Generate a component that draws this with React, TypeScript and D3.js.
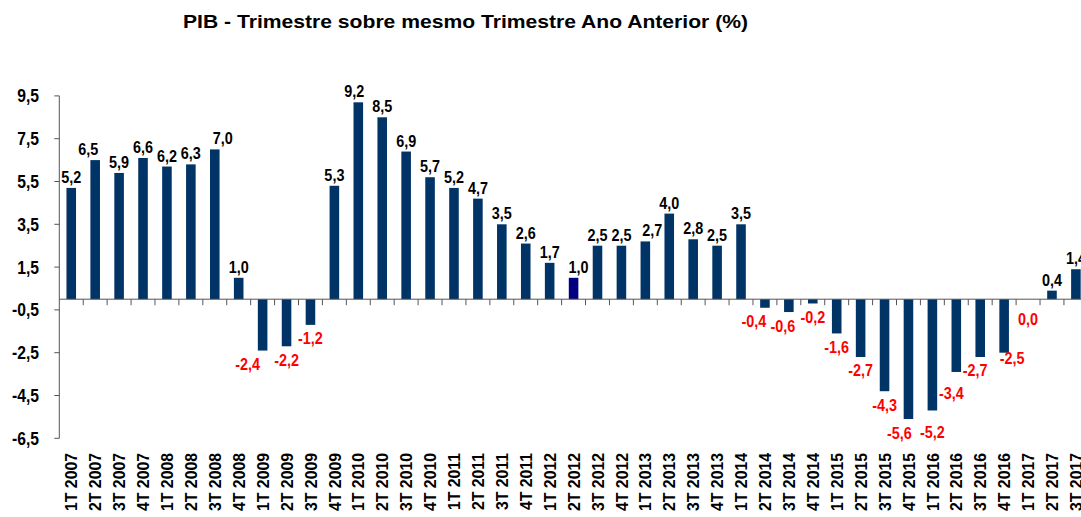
import * as d3 from "d3";

// PIB trimestral vs mesmo trimestre do ano anterior (%)
const QUARTERS = ["1T", "2T", "3T", "4T"];
const YEARS = [2007, 2008, 2009, 2010, 2011, 2012, 2013, 2014, 2015, 2016, 2017];
const CATEGORIES: string[] = YEARS.flatMap((y) => QUARTERS.map((q) => `${q} ${y}`)).slice(0, 43);

const VALUES = [
  5.2, 6.5, 5.9, 6.6,
  6.2, 6.3, 7.0, 1.0,
  -2.4, -2.2, -1.2, 5.3,
  9.2, 8.5, 6.9, 5.7,
  5.2, 4.7, 3.5, 2.6,
  1.7, 1.0, 2.5, 2.5,
  2.7, 4.0, 2.8, 2.5,
  3.5, -0.4, -0.6, -0.2,
  -1.6, -2.7, -4.3, -5.6,
  -5.2, -3.4, -2.7, -2.5,
  0.0, 0.4, 1.4,
];

const Y_TICKS = [-6.5, -4.5, -2.5, -0.5, 1.5, 3.5, 5.5, 7.5, 9.5];
const HIGHLIGHT = "2T 2012";

// ajustes manuais dos rótulos (como no gráfico original)
const LABEL_NUDGE: Record<string, [number, number]> = {
  "2T 2007": [-7, 0],
  "3T 2008": [8, 0],
  "1T 2009": [-15, 0],
  "1T 2010": [-4, 0],
  "2T 2012": [5, 0],
  "1T 2013": [7, 0],
  "2T 2014": [-11, 0],
  "3T 2014": [-6, 0],
  "4T 2015": [-9, 0],
  "1T 2016": [0, 8],
  "2T 2016": [-5, 8],
  "3T 2016": [-5, 0],
  "4T 2016": [8, -8],
  "1T 2017": [0, 6],
};

const W = 1081;
const H = 517;
const X0 = 59.3;
const STEP = 23.92;
const FONT = "'Liberation Sans', Arial, sans-serif";
const BAR = "#003366";
const BAR_HI = "#000080";
const AXIS = "#555555";

const fmt = (v: number) => v.toFixed(1).replace(".", ",");

// texto em negrito um pouco condensado (estilo do Excel)
function Label({
  x, y, size, sx, anchor, fill = "#000", rotate = 0, dy, children,
}: {
  x: number; y: number; size: number; sx: number; anchor: "start" | "middle" | "end";
  fill?: string; rotate?: number; dy?: string; children: string;
}) {
  return (
    <text
      transform={`translate(${x},${y}) rotate(${rotate}) scale(${sx},1)`}
      dy={dy}
      textAnchor={anchor}
      fontSize={size}
      fontWeight={700}
      fill={fill}
    >
      {children}
    </text>
  );
}

export default function App() {
  const x = d3
    .scaleBand<string>()
    .domain(CATEGORIES)
    .range([X0, X0 + STEP * CATEGORIES.length])
    .paddingInner(0.6)
    .paddingOuter(0.3);
  const y = d3.scaleLinear().domain([-6.5, 9.5]).range([438.3, 95.9]);
  const y0 = y(0);
  const bw = x.bandwidth();

  return (
    <svg
      width={W}
      height={H}
      viewBox={`0 0 ${W} ${H}`}
      style={{ position: "absolute", left: 0, top: 0, background: "#fff" }}
      fontFamily={FONT}
    >
      <text
        x={465.5}
        y={28}
        textAnchor="middle"
        fontSize={19}
        fontWeight={700}
        textLength={565}
        lengthAdjust="spacingAndGlyphs"
        fill="#000"
      >
        PIB - Trimestre sobre mesmo Trimestre Ano Anterior (%)
      </text>

      {/* barras */}
      {CATEGORIES.map((c, i) => {
        const v = VALUES[i];
        const top = Math.min(y(v), y0);
        const h = Math.abs(y(v) - y0);
        return (
          <rect
            key={c}
            x={x(c)}
            y={top}
            width={bw}
            height={h}
            fill={c === HIGHLIGHT ? BAR_HI : BAR}
          />
        );
      })}

      {/* eixo Y */}
      <line x1={X0} x2={X0} y1={y(9.5)} y2={y(-6.5)} stroke={AXIS} strokeWidth={1} />
      {Y_TICKS.map((t) => (
        <g key={t}>
          <line x1={X0 - 5} x2={X0} y1={y(t)} y2={y(t)} stroke={AXIS} strokeWidth={1} />
          <Label x={39} y={y(t)} dy="0.36em" anchor="end" size={18} sx={0.87}>
            {fmt(t)}
          </Label>
        </g>
      ))}

      {/* eixo das categorias (em zero) */}
      <line x1={X0} x2={X0 + STEP * CATEGORIES.length} y1={y0} y2={y0} stroke={AXIS} strokeWidth={1} />
      {CATEGORIES.map((c, i) => (
        <line
          key={`t${c}`}
          x1={X0 + (i + 1) * STEP}
          x2={X0 + (i + 1) * STEP}
          y1={y0}
          y2={y0 + 6}
          stroke={AXIS}
          strokeWidth={1}
        />
      ))}

      {/* rótulos das categorias */}
      {CATEGORIES.map((c) => (
        <Label
          key={`l${c}`}
          x={(x(c) ?? 0) + bw / 2}
          y={453}
          rotate={-90}
          dy="0.36em"
          anchor="end"
          size={17}
          sx={0.93}
        >
          {c}
        </Label>
      ))}

      {/* rótulos dos valores */}
      {CATEGORIES.map((c, i) => {
        const v = VALUES[i];
        const [dx, dy] = LABEL_NUDGE[c] ?? [0, 0];
        const neg = v <= 0;
        const ly = neg ? y(v) + 8 + 11.5 : y(v) - 5;
        return (
          <Label
            key={`v${c}`}
            x={(x(c) ?? 0) + bw / 2 + dx}
            y={ly + dy}
            anchor="middle"
            size={16}
            sx={0.9}
            fill={neg ? "#ff0000" : "#000"}
          >
            {fmt(v)}
          </Label>
        );
      })}
    </svg>
  );
}
